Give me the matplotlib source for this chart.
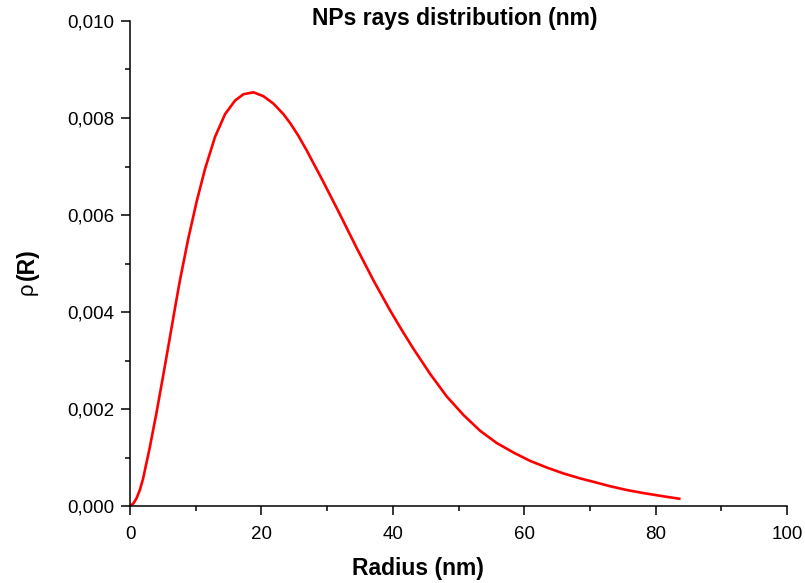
import matplotlib
matplotlib.use('Agg')
import matplotlib.pyplot as plt
from matplotlib.ticker import MultipleLocator, FuncFormatter

plt.rcParams['font.family'] = ['Liberation Sans', 'DejaVu Sans']

# values
radius = [0.0, 0.5, 1.0, 1.5, 2.0, 3.0, 4.0, 5.0, 6.0, 7.0, 7.61, 8.88,
          10.15, 11.42, 12.94, 14.47, 15.99, 17.26, 18.78, 20.3, 21.8, 23.35,
          24.4, 25.6, 26.9, 29.4, 32.0, 34.5, 37.1, 39.6, 41.4, 43.1, 45.7,
          48.2, 50.8, 53.3, 55.8, 58.4, 60.9, 63.5, 66.0, 68.5, 70.5, 73.0,
          75.6, 78.0, 80.7, 83.6]
rho = [0.0, 0.00005, 0.00016, 0.00033, 0.00057, 0.0012, 0.0019, 0.00265,
       0.00342, 0.0042, 0.00466, 0.00552, 0.00628, 0.00695, 0.00761, 0.00808,
       0.00836, 0.00849, 0.00853, 0.00845, 0.0083, 0.00808, 0.00789, 0.00764,
       0.00733, 0.00669, 0.006, 0.00532, 0.00464, 0.00403, 0.00362, 0.00325,
       0.00272, 0.00226, 0.00187, 0.00155, 0.0013, 0.0011, 0.00093, 0.00079,
       0.00067, 0.00057, 0.0005, 0.00041, 0.00033, 0.00027, 0.00021, 0.00015]

fig = plt.figure(figsize=(8.05, 5.83), dpi=100)
ax = fig.add_axes([130/805, 1 - 506/583, 657/805, 485/583])

ax.plot(radius, rho, color='#ff0000', lw=1.9, solid_joinstyle='round')

ax.set_xlim(0, 100)
ax.set_ylim(0, 0.010)
ax.spines['top'].set_visible(False)
ax.spines['right'].set_visible(False)
for s in ['left', 'bottom']:
    ax.spines[s].set_linewidth(1.1)

ax.xaxis.set_major_locator(MultipleLocator(20))
ax.xaxis.set_minor_locator(MultipleLocator(10))
ax.yaxis.set_major_locator(MultipleLocator(0.002))
ax.yaxis.set_minor_locator(MultipleLocator(0.001))
ax.yaxis.set_major_formatter(FuncFormatter(lambda v, p: ('%.3f' % v).replace('.', ',')))
ax.tick_params(which='major', direction='out', length=6.5, width=1.1, labelsize=13.5)
ax.tick_params(axis='x', which='major', pad=8)
ax.tick_params(axis='y', which='major', pad=5)
ax.tick_params(which='minor', direction='out', length=3.6, width=1.1)

fig.text(455/805, 1 - 18/583, 'NPs rays distribution (nm)', ha='center', va='center',
         fontsize=16.5, fontweight='bold')
fig.text(418/805, 1 - 568/583, 'Radius (nm)', ha='center', va='center',
         fontsize=16.5, fontweight='bold')
fig.text(27/805, 1 - 295/583, 'ρ', rotation=90, ha='center', va='bottom', fontsize=16)
fig.text(27/805, 1 - 280/583, '(R)', rotation=90, ha='center', va='bottom',
         fontsize=16.5, fontweight='bold')

fig.savefig('out.png', dpi=100)
